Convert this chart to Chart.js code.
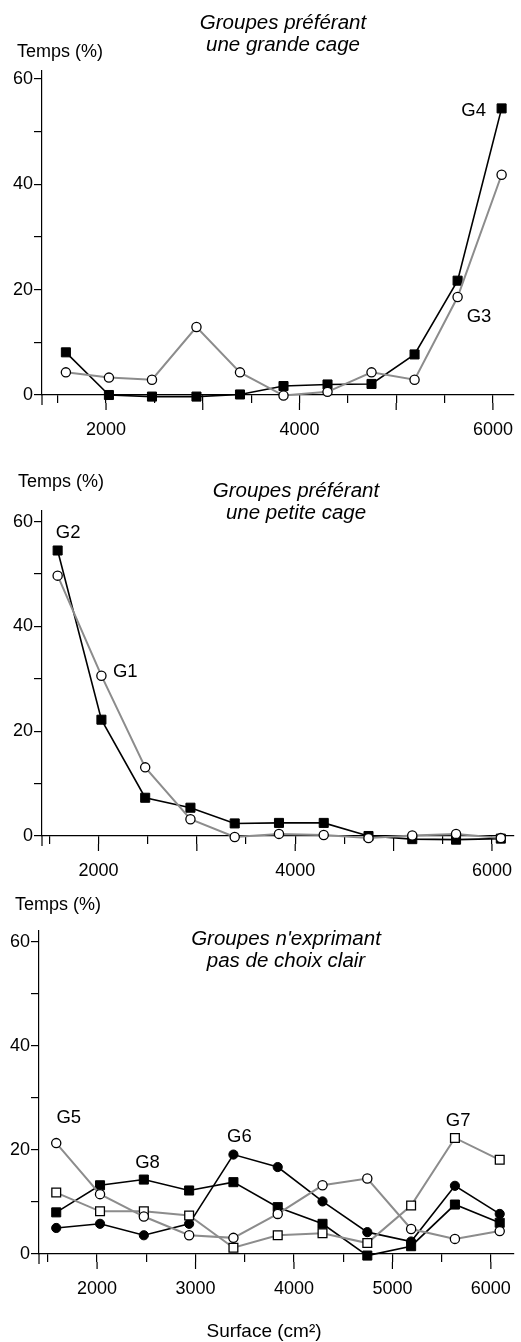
<!DOCTYPE html>
<html>
<head>
<meta charset="utf-8">
<script src="https://cdn.jsdelivr.net/npm/chart.js@4.4.0/dist/chart.umd.min.js"></script>
<style>
  body { margin: 0; background: #fff; }
  #wrap { position: relative; width: 521px; height: 1342px; }
  canvas { position: absolute; left: 0; }
</style>
</head>
<body>
<div id="wrap">
  <canvas id="chartLarge" width="521" height="442" style="top:0px"></canvas>
  <canvas id="chartSmall" width="521" height="443" style="top:442px"></canvas>
  <canvas id="chartNone" width="521" height="457" style="top:885px"></canvas>
</div>
<script>
// surfaces (cm2) of the 11 cages
var surface = [1585, 2030, 2475, 2935, 3385, 3835, 4290, 4745, 5190, 5635, 6090];

// time spent (%) per group
var g3 = [4.3, 3.3, 2.9, 12.9, 4.3, -0.1, 0.6, 4.3, 2.9, 18.6, 41.8];
var g4 = [8.1, 0, -0.3, -0.3, 0.1, 1.7, 2.0, 2.1, 7.7, 21.7, 54.4];
var g1 = [49.7, 30.6, 13.1, 3.2, -0.2, 0.4, 0.2, -0.4, 0.1, 0.4, -0.4];
var g2 = [54.5, 22.2, 7.3, 5.4, 2.4, 2.5, 2.5, 0, -0.6, -0.7, -0.5];
var g5 = [21.3, 11.5, 7.2, 3.6, 3.1, 7.7, 13.2, 14.5, 4.8, 2.9, 4.4];
var g6 = [5.0, 5.8, 3.6, 5.8, 19.1, 16.7, 10.1, 4.2, 2.4, 13.1, 7.7];
var g7 = [11.8, 8.2, 8.2, 7.4, 1.2, 3.6, 4.0, 2.1, 9.3, 22.3, 18.1];
var g8 = [8.0, 13.2, 14.3, 12.2, 13.8, 9.0, 5.8, -0.3, 1.5, 9.5, 6.0];

// axis ticks and labels
var xTicks = [1500, 2000, 2500, 3000, 3500, 4000, 4500, 5000, 5500, 6000];
var xLabelsTop = [2000, 4000, 6000];
var xLabelsBottom = [2000, 3000, 4000, 5000, 6000];
var yTicks = [0, 10, 20, 30, 40, 50, 60];
var yLabels = [0, 20, 40, 60];

Chart.defaults.font.family = '"Liberation Sans", Arial, sans-serif';
Chart.defaults.color = '#000';

var FONT = '"Liberation Sans", Arial, sans-serif';

// titles, axis names, group names, longer ticks every 1000
var extrasPlugin = {
  id: 'extras',
  afterDraw: function (chart, args, opts) {
    var ctx = chart.ctx;
    var xs = chart.scales.x, ys = chart.scales.y;
    var y0 = ys.getPixelForValue(0);
    ctx.save();
    ctx.strokeStyle = '#000';
    ctx.lineWidth = 1.2;
    xTicks.forEach(function (v) {
      if (v % 1000 === 0) {
        var px = xs.getPixelForValue(v);
        ctx.beginPath();
        ctx.moveTo(px, y0 + 8);
        ctx.lineTo(px, y0 + 15);
        ctx.stroke();
      }
    });
    ctx.beginPath();
    ctx.moveTo(chart.chartArea.left, y0);
    ctx.lineTo(chart.chartArea.left, y0 + 10);
    ctx.stroke();

    ctx.fillStyle = '#000';
    ctx.textBaseline = 'alphabetic';
    ctx.font = '18px ' + FONT;
    ctx.textAlign = 'left';
    ctx.fillText('Temps (%)', opts.unitX, opts.unitY);

    ctx.font = 'italic 20.5px ' + FONT;
    ctx.textAlign = 'center';
    opts.title.forEach(function (line, i) {
      ctx.fillText(line, opts.titleX, opts.titleY + i * 22);
    });

    ctx.font = '18.5px ' + FONT;
    ctx.textAlign = 'left';
    opts.labels.forEach(function (l) {
      ctx.fillText(l.text, xs.getPixelForValue(l.x), ys.getPixelForValue(l.y));
    });

    if (opts.xName) {
      ctx.font = '19px ' + FONT;
      ctx.textAlign = 'center';
      ctx.fillText(opts.xName, opts.xNameX, opts.xNameY);
    }
    ctx.restore();
  }
};

function points(values) {
  return surface.map(function (s, i) { return { x: s, y: values[i] }; });
}

function solidSeries(label, values, style) {
  return {
    label: label,
    data: points(values),
    borderColor: '#000',
    borderWidth: 1.6,
    pointStyle: style,
    pointRadius: style === 'rect' ? 6.4 : 4.6,
    pointBackgroundColor: '#000',
    pointBorderColor: '#000',
    pointBorderWidth: 1,
    tension: 0,
    clip: false
  };
}

function openSeries(label, values, style) {
  return {
    label: label,
    data: points(values),
    borderColor: '#8c8c8c',
    borderWidth: 2,
    pointStyle: style,
    pointRadius: style === 'rect' ? 6.2 : 4.6,
    pointBackgroundColor: '#fff',
    pointBorderColor: '#000',
    pointBorderWidth: 1.3,
    tension: 0,
    clip: false
  };
}

function makeChart(id, datasets, cfg) {
  return new Chart(document.getElementById(id), {
    type: 'line',
    data: { datasets: datasets },
    plugins: [extrasPlugin],
    options: {
      responsive: false,
      animation: false,
      events: [],
      layout: { padding: { top: cfg.top, left: 0, right: 0, bottom: 0 } },
      plugins: {
        legend: { display: false },
        tooltip: { enabled: false },
        extras: cfg.extras
      },
      scales: {
        x: {
          type: 'linear',
          min: cfg.xMin,
          max: cfg.xMax,
          afterBuildTicks: function (s) { s.ticks = xTicks.map(function (v) { return { value: v }; }); },
          afterFit: function (s) { s.height = cfg.height - cfg.bottom; s.paddingLeft = 0; s.paddingRight = 0; },
          ticks: {
            autoSkip: false,
            maxRotation: 0,
            padding: 16,
            font: { size: 18 },
            callback: function (v) { return cfg.xLabels.indexOf(v) >= 0 ? String(v) : ''; }
          },
          grid: { drawOnChartArea: false, drawTicks: true, tickLength: 8, color: '#000', lineWidth: 1.2 },
          border: { color: '#000', width: 1.2 }
        },
        y: {
          min: 0,
          max: cfg.yMax,
          afterBuildTicks: function (s) { s.ticks = yTicks.map(function (v) { return { value: v }; }); },
          afterFit: function (s) { s.width = cfg.left; s.paddingTop = 0; s.paddingBottom = 0; },
          ticks: {
            padding: 1,
            font: { size: 18 },
            callback: function (v) { return yLabels.indexOf(v) >= 0 ? String(v) : ''; }
          },
          grid: { drawOnChartArea: false, drawTicks: true, tickLength: 8, color: '#000', lineWidth: 1.2 },
          border: { color: '#000', width: 1.2 }
        }
      }
    }
  });
}

makeChart('chartLarge', [openSeries('G3', g3, 'circle'), solidSeries('G4', g4, 'rect')], {
  height: 442, top: 71, left: 42, bottom: 395,
  xMin: 1338, xMax: 6214, yMax: 61.5, xLabels: xLabelsTop,
  extras: {
    unitX: 17, unitY: 57,
    title: ['Groupes préférant', 'une grande cage'], titleX: 283, titleY: 29,
    labels: [{ text: 'G4', x: 5674, y: 53.0 }, { text: 'G3', x: 5729, y: 13.9 }]
  }
});

makeChart('chartSmall', [openSeries('G1', g1, 'circle'), solidSeries('G2', g2, 'rect')], {
  height: 443, top: 69, left: 42, bottom: 394,
  xMin: 1426, xMax: 6220, yMax: 62.04, xLabels: xLabelsTop,
  extras: {
    unitX: 18, unitY: 45,
    title: ['Groupes préférant', 'une petite cage'], titleX: 296, titleY: 55,
    labels: [{ text: 'G2', x: 1567, y: 56.8 }, { text: 'G1', x: 2147, y: 30.4 }]
  }
});

makeChart('chartNone', [
  openSeries('G5', g5, 'circle'),
  openSeries('G7', g7, 'rect'),
  solidSeries('G6', g6, 'circle'),
  solidSeries('G8', g8, 'rect')
], {
  height: 457, top: 46, left: 39, bottom: 369,
  xMin: 1410, xMax: 6230, yMax: 62.05, xLabels: xLabelsBottom,
  extras: {
    unitX: 15, unitY: 25,
    title: ["Groupes n'exprimant", 'pas de choix clair'], titleX: 286, titleY: 60,
    labels: [
      { text: 'G5', x: 1587, y: 25.2 },
      { text: 'G6', x: 3320, y: 21.6 },
      { text: 'G8', x: 2387, y: 16.5 },
      { text: 'G7', x: 5543, y: 24.5 }
    ],
    xName: 'Surface (cm²)', xNameX: 264, xNameY: 452
  }
});
</script>
</body>
</html>
